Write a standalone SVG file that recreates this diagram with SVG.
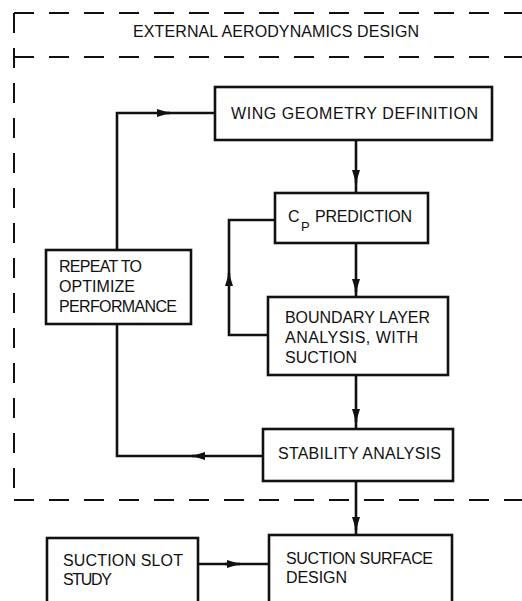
<svg xmlns="http://www.w3.org/2000/svg" width="522" height="601" viewBox="0 0 522 601">
<style>
.box{fill:#fff;stroke:#111;stroke-width:2.6}
.ln{fill:none;stroke:#111;stroke-width:2.6}
.dash{fill:none;stroke:#111;stroke-width:2;stroke-dasharray:20 15}
.t{font-family:"Liberation Sans",Arial,sans-serif;font-size:16px;fill:#111}
.sub{font-family:"Liberation Sans",Arial,sans-serif;font-size:13px;fill:#111}
</style>
<defs>
<marker id="ah" markerUnits="userSpaceOnUse" viewBox="0 0 13 8" refX="13" refY="4" markerWidth="13" markerHeight="8" orient="auto">
<path d="M0,0 L13,4 L0,8 z" fill="#111"/>
</marker>
</defs>
<rect width="522" height="601" fill="#fff"/>
<g id="frame">
<path class="dash" d="M14,13 H522"/>
<path class="dash" d="M14,13 V500"/>
<path class="dash" d="M14,57 H522"/>
<path class="dash" d="M14,500 H522"/>
<text class="t" x="133" y="37" textLength="286" lengthAdjust="spacing">EXTERNAL AERODYNAMICS DESIGN</text>
</g>
<g id="connectors">
<path class="ln" d="M117,250 V113 H215"/>
<path class="ln" d="M158,113 H170" marker-end="url(#ah)"/>
<path class="ln" d="M117,324 V456 H263"/>
<path class="ln" d="M205,456 H192" marker-end="url(#ah)"/>
<path class="ln" d="M356,140 V193"/>
<path class="ln" d="M356,170 V183" marker-end="url(#ah)"/>
<path class="ln" d="M356,243 V297"/>
<path class="ln" d="M356,280 V292" marker-end="url(#ah)"/>
<path class="ln" d="M268,335 H229 V220 H275"/>
<path class="ln" d="M229,285 V273" marker-end="url(#ah)"/>
<path class="ln" d="M356,375 V429"/>
<path class="ln" d="M356,409 V422" marker-end="url(#ah)"/>
<path class="ln" d="M356,481 V535"/>
<path class="ln" d="M356,517 V530" marker-end="url(#ah)"/>
<path class="ln" d="M198,564 H269"/>
<path class="ln" d="M225,564 H240" marker-end="url(#ah)"/>
</g>
<g id="wing">
<rect class="box" x="215" y="87" width="277" height="53"/>
<text class="t" x="231" y="119" textLength="247" lengthAdjust="spacing">WING GEOMETRY DEFINITION</text>
</g>
<g id="cp">
<rect class="box" x="275" y="193" width="153" height="50"/>
<text class="t" x="288" y="222">C</text>
<text class="sub" x="301" y="231">P</text>
<text class="t" x="315" y="222" textLength="97" lengthAdjust="spacing">PREDICTION</text>
</g>
<g id="boundary">
<rect class="box" x="268" y="297" width="180" height="78"/>
<text class="t" x="285" y="323" textLength="145" lengthAdjust="spacing">BOUNDARY LAYER</text>
<text class="t" x="285" y="343" textLength="133" lengthAdjust="spacing">ANALYSIS, WITH</text>
<text class="t" x="285" y="363" textLength="72" lengthAdjust="spacing">SUCTION</text>
</g>
<g id="repeat">
<rect class="box" x="46" y="250" width="145" height="74"/>
<text class="t" x="59" y="272" textLength="83" lengthAdjust="spacing">REPEAT TO</text>
<text class="t" x="59" y="292" textLength="76" lengthAdjust="spacing">OPTIMIZE</text>
<text class="t" x="59" y="312" textLength="118" lengthAdjust="spacing">PERFORMANCE</text>
</g>
<g id="stability">
<rect class="box" x="263" y="429" width="190" height="52"/>
<text class="t" x="278" y="459" textLength="163" lengthAdjust="spacing">STABILITY ANALYSIS</text>
</g>
<g id="surface">
<rect class="box" x="269" y="535" width="183" height="80"/>
<text class="t" x="286" y="564" textLength="147" lengthAdjust="spacing">SUCTION SURFACE</text>
<text class="t" x="286" y="583" textLength="61" lengthAdjust="spacing">DESIGN</text>
</g>
<g id="slot">
<rect class="box" x="47" y="538" width="151" height="80"/>
<text class="t" x="63" y="566" textLength="120" lengthAdjust="spacing">SUCTION SLOT</text>
<text class="t" x="63" y="585" textLength="49" lengthAdjust="spacing">STUDY</text>
</g>
</svg>
